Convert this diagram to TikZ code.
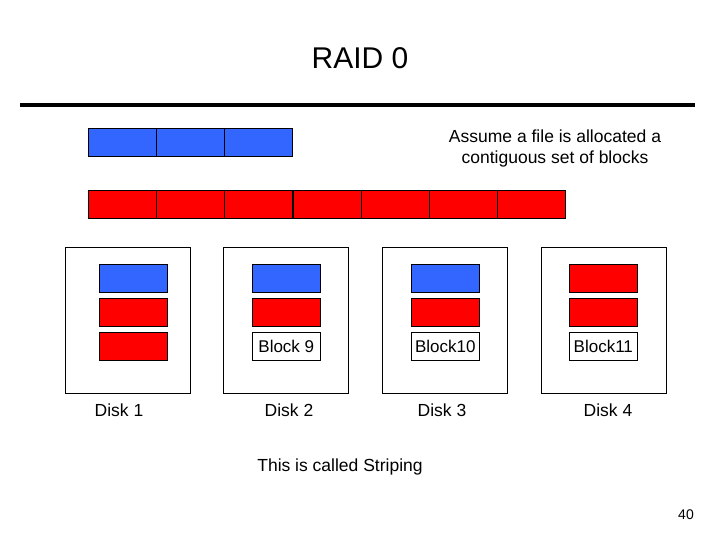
\documentclass[tikz,border=0pt]{standalone}
\usepackage{fontspec}
\setmainfont{Liberation Sans}
\begin{document}
\begin{tikzpicture}[x=1pt,y=-1pt,
  blk/.style={draw=black,line width=0.6pt,minimum width=68pt,minimum height=28pt,inner sep=0pt,anchor=north west},
  bl/.style={blk,fill={rgb,255:red,51;green,102;blue,255}},
  rd/.style={blk,fill=red},
  wt/.style={blk,fill=white,font=\fontsize{17}{19}\selectfont},
  disk/.style={draw=black,line width=0.6pt,minimum width=125pt,minimum height=146pt,inner sep=0pt,anchor=north west},
  lab/.style={font=\fontsize{17.5}{21}\selectfont}]
\useasboundingbox (0,0) rectangle (720,540);
\node[font=\fontsize{30}{34}\selectfont] (title) at (360,58) {RAID 0};
\draw[line width=4pt] (20,105) coordinate (r1) -- (695,105) coordinate (r2);
\foreach \i in {0,1,2} \node[bl] (b\i) at (88+68*\i,128) {};
\node[lab,align=center] (assume) at (555,148) {Assume a file is allocated a\\contiguous set of blocks};
\foreach \i in {0,...,6} \node[rd] (r\i) at (88+68.2*\i,190) {};
\node[disk] (d1) at (65,247) {};
\node[disk] (d2) at (223,247) {};
\node[disk] (d3) at (382,247) {};
\node[disk] (d4) at (541,247) {};
\node[bl] (d1a) at (99,264) {}; \node[rd] (d1b) at (99,298) {}; \node[rd] (d1c) at (99,332) {};
\node[bl] (d2a) at (252,264) {}; \node[rd] (d2b) at (252,298) {}; \node[wt] (d2c) at (252,332) {Block 9};
\node[bl] (d3a) at (411,264) {}; \node[rd] (d3b) at (411,298) {}; \node[wt] (d3c) at (411,332) {Block10};
\node[rd] (d4a) at (569,264) {}; \node[rd] (d4b) at (569,298) {}; \node[wt] (d4c) at (569,332) {Block11};
\node[lab] (l1) at (119,410) {Disk 1};
\node[lab] (l2) at (289,410) {Disk 2};
\node[lab] (l3) at (442,410) {Disk 3};
\node[lab] (l4) at (608,410) {Disk 4};
\node[lab] (strip) at (340,467) {This is called Striping};
\node[font=\fontsize{14}{16}\selectfont] (pg) at (686,515) {40};
\end{tikzpicture}
\end{document}
